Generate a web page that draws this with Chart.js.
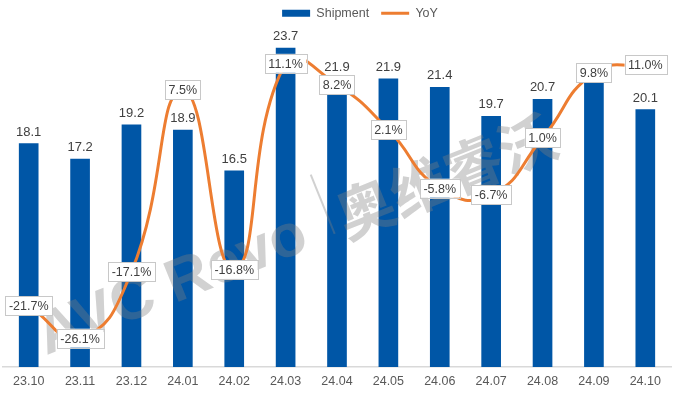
<!DOCTYPE html>
<html>
<head>
<meta charset="utf-8">
<script src="https://cdn.jsdelivr.net/npm/chart.js@4.4.0/dist/chart.umd.min.js"></script>
<style>
  html, body { margin: 0; padding: 0; background: #fff; }
  #wrap { width: 676px; height: 397px; }
</style>
</head>
<body>
<div id="wrap"><canvas id="chart-shipment" width="676" height="397"></canvas></div>
<script>
var months = ["23.10", "23.11", "23.12", "24.01", "24.02", "24.03", "24.04", "24.05", "24.06", "24.07", "24.08", "24.09", "24.10"];
var shipment = [18.1, 17.2, 19.2, 18.9, 16.5, 23.7, 21.9, 21.9, 21.4, 19.7, 20.7, 21.7, 20.1];
var yoy = [-21.7, -26.1, -17.1, 7.5, -16.8, 11.1, 8.2, 2.1, -5.8, -6.7, 1.0, 9.8, 11.0];

var FONT = '"Liberation Sans", Arial, sans-serif';

// labels on bars / boxed YoY labels + faint watermark
var labelPlugin = {
  id: "valueLabels",
  afterDatasetDraw: function (chart, args) {
    if (args.meta.type !== "bar") return;
    var ctx = chart.ctx;
    ctx.save();
    ctx.font = "13px " + FONT;
    ctx.fillStyle = "#404040";
    ctx.textAlign = "center";
    ctx.textBaseline = "alphabetic";
    args.meta.data.forEach(function (bar, i) {
      ctx.fillText(shipment[i].toFixed(1), bar.x, bar.y - 8);
    });
    ctx.restore();

    // watermark
    ctx.save();
    ctx.translate(40, 340);
    ctx.rotate(-22 * Math.PI / 180);
    ctx.fillStyle = "rgba(128,128,128,0.36)";
    ctx.font = "bold 60px " + FONT;
    ctx.fillText("AVC Revo", 0, 0);
    ctx.fillRect(312, -52, 2, 64);
    ctx.font = 'bold 58px "Noto Sans CJK SC", sans-serif';
    ctx.fillText("奥维睿沃", 322, 0);
    ctx.restore();
  },
  afterDatasetsDraw: function (chart) {
    var ctx = chart.ctx;
    var meta = chart.getDatasetMeta(1);
    ctx.save();
    ctx.font = "12.5px " + FONT;
    ctx.textAlign = "center";
    ctx.textBaseline = "middle";
    meta.data.forEach(function (pt, i) {
      var txt = yoy[i].toFixed(1) + "%";
      var w = ctx.measureText(txt).width + 7;
      var h = 19;
      ctx.fillStyle = "#ffffff";
      ctx.fillRect(pt.x - w / 2, pt.y - h / 2, w, h);
      ctx.strokeStyle = "#C8C8C8";
      ctx.lineWidth = 1;
      ctx.strokeRect(Math.round(pt.x - w / 2) + 0.5, Math.round(pt.y - h / 2) + 0.5, Math.round(w), h);
      ctx.fillStyle = "#404040";
      ctx.fillText(txt, pt.x, pt.y + 1);
    });
    ctx.restore();
  }
};

// nudge the legend to where it sits in the picture
var legendShift = {
  id: "legendShift",
  afterLayout: function (chart) {
    var lg = chart.legend;
    lg.left += 23; lg.right += 23;
    lg.top -= 5; lg.bottom -= 5;
  }
};

var ctx = document.getElementById("chart-shipment");
var shipmentChart = new Chart(ctx, {
  type: "bar",
  data: {
    labels: months,
    datasets: [
      {
        label: "Shipment",
        data: shipment,
        backgroundColor: "#0056A6",
        barThickness: 19,
        yAxisID: "y",
        order: 1,
        pointStyle: "rect",
      },
      {
        type: "line",
        label: "YoY",
        data: yoy,
        borderColor: "#ED7D31",
        backgroundColor: "#ED7D31",
        borderWidth: 3,
        pointRadius: 0,
        tension: 0.5,
        yAxisID: "y1",
        order: 0,
        pointStyle: "line",
      },
    ],
  },
  options: {
    responsive: false,
    animation: false,
    layout: { padding: { left: 3, right: 5, top: 0, bottom: 0 } },
    plugins: {
      legend: {
        position: "top",
        labels: {
          usePointStyle: true,
          pointStyleWidth: 28,
          boxHeight: 7,
          padding: 12,
          color: "#595959",
          font: { size: 12.5, family: FONT },
          sort: function (a, b) { return a.datasetIndex - b.datasetIndex; },
        },
      },
      tooltip: { enabled: false },
    },
    scales: {
      x: {
        grid: { display: false, drawTicks: false },
        border: { color: "#D9D9D9", width: 1.5 },
        ticks: { color: "#595959", padding: 7.5, font: { size: 12.5, family: FONT } },
      },
      y: { display: false, min: 5, max: 24.5 },
      y1: { display: false, min: -30, max: 15 },
    },
  },
  plugins: [labelPlugin, legendShift],
});
</script>
</body>
</html>
